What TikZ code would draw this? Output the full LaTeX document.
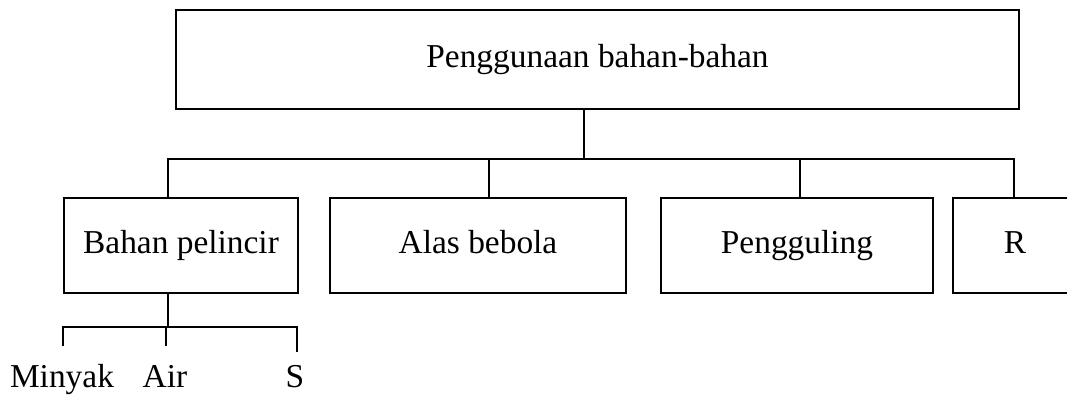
\documentclass[tikz,border=0pt]{standalone}
\usepackage{fontspec}
\setmainfont{Liberation Serif}
\usetikzlibrary{positioning}
\tikzset{
  box/.style={draw, line width=1pt, inner sep=0pt, minimum height=47.5pt,
    text height=11.5pt, text depth=3.5pt, font=\fontsize{16.7}{20}\selectfont},
  label/.style={inner sep=0pt, anchor=base, font=\fontsize{16.7}{20}\selectfont},
  link/.style={line width=1pt}
}

\begin{document}
\begin{tikzpicture}[x=0.5pt, y=-0.5pt]
      \useasboundingbox (0,0) rectangle (1067,399);

      \node[box, minimum width=421.5pt, minimum height=49.5pt] (top) at (597.5,59.5) {Penggunaan bahan-bahan};
      \node[box, minimum width=117pt] (pelincir) at (181,245.5) {Bahan pelincir};
      \node[box, minimum width=148pt] (bebola) at (478,245.5) {Alas bebola};
      \node[box, minimum width=136pt] (guling) at (797,245.5) {Pengguling};
      \node[box, minimum width=100pt] (rbox) at (1053,245.5) {};
      \node[label, anchor=center, text height=11.5pt, text depth=3.5pt] (r) at (1015,245.5) {R};

      % joints on the bus
      \coordinate (j0) at (584,159);
      \coordinate (j1) at (168,159);
      \coordinate (j2) at (489,159);
      \coordinate (j3) at (800,159);
      \coordinate (j4) at (1014,159);

      \draw[link] (top.south -| j0) -- (j0);
      \draw[link] (pelincir.north -| j1) -- (j1) -- (j4) -- (rbox.north -| j4);
      \draw[link] (j2) -- (bebola.north -| j2);
      \draw[link] (j3) -- (guling.north -| j3);

      % lower branch
      \node[label] (minyak) at (62,388) {Minyak};
      \node[label] (air) at (165,388) {Air};
      \node[label] (s) at (295,388) {S};

      \coordinate (k0) at (168,327);
      \coordinate (k1) at (63,327);
      \coordinate (k2) at (297,327);
      \coordinate (e1) at (63,346);
      \coordinate (e0) at (166,346);
      \coordinate (e2) at (297,352);

      \draw[link] (pelincir.south -| k0) -- (k0);
      \draw[link] (e1) -- (k1) -- (k2) -- (e2);
      \draw[link] (k0 -| e0) -- (e0);

    \end{tikzpicture}
\end{document}
